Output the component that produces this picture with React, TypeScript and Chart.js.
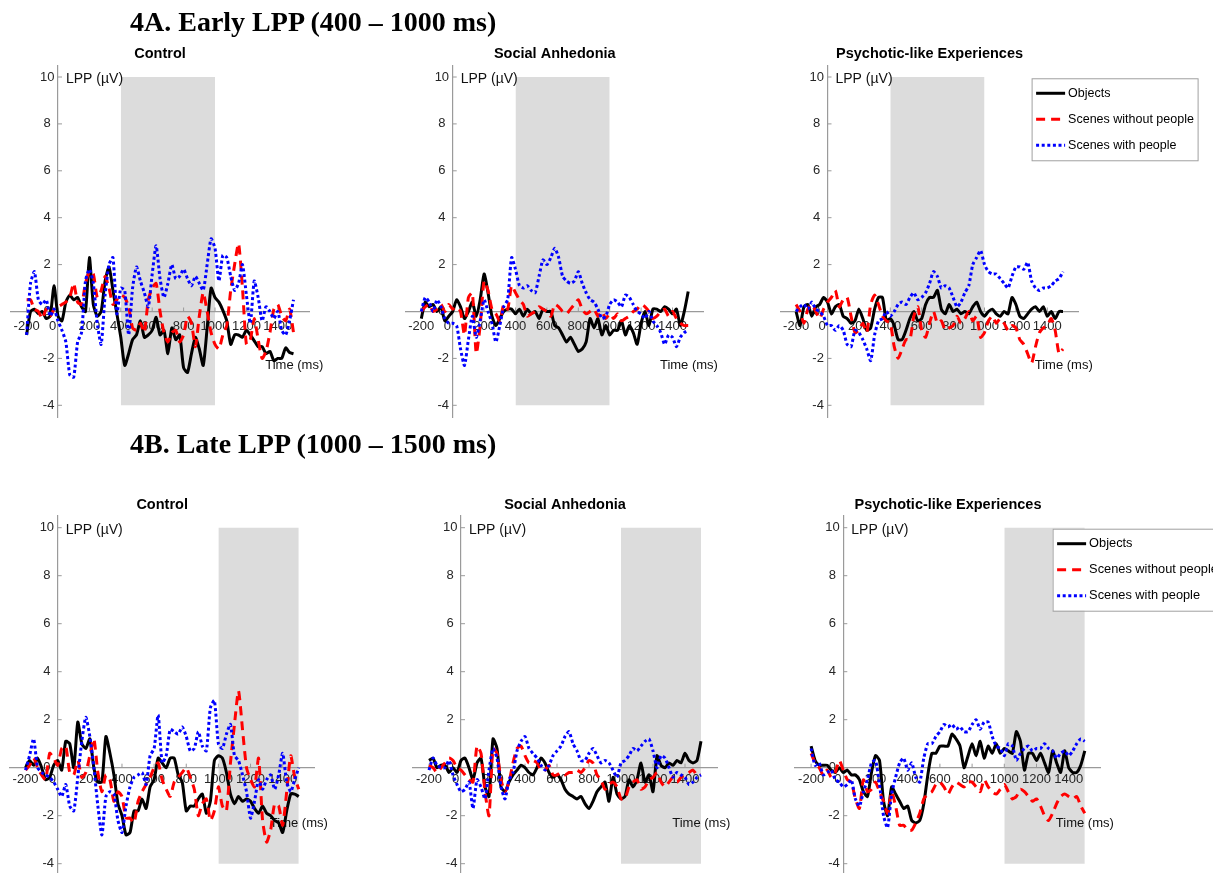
import React, { useEffect, useRef } from "react";
import { Chart, registerables } from "chart.js";

Chart.register(...registerables);

// ---------------- data ----------------
const TIME_MS = [
  -200, -175, -150, -125, -100, -75, -50, -25, 0, 25,
  50, 75, 100, 125, 150, 175, 200, 225, 250, 275,
  300, 325, 350, 375, 400, 425, 450, 475, 500, 525,
  550, 575, 600, 625, 650, 675, 700, 725, 750, 775,
  800, 825, 850, 875, 900, 925, 950, 975, 1000, 1025,
  1050, 1075, 1100, 1125, 1150, 1175, 1200, 1225, 1250, 1275,
  1300, 1325, 1350, 1375, 1400, 1425, 1450, 1475, 1500,
];
const X_TICKS = [-200, 0, 200, 400, 600, 800, 1000, 1200, 1400];
const Y_TICKS = [-4, -2, 0, 2, 4, 6, 8, 10];
const X_RANGE = [-300, 1600];
const Y_RANGE = [-4.5, 10.5];
const BAND_Y = [-4, 10];
const EARLY_WINDOW = [400, 1000];
const LATE_WINDOW = [1000, 1500];
const SERIES_LABELS = ["Objects", "Scenes without people", "Scenes with people"];
const GROUPS = ["Control", "Social Anhedonia", "Psychotic-like Experiences"];
const SECTION_TITLES = ["4A. Early LPP (400 \u2013 1000 ms)", "4B. Late LPP (1000 \u2013 1500 ms)"];
const Y_LABEL = "LPP (\u00b5V)";
const X_LABEL = "Time (ms)";

// 4A Early LPP
const EARLY_CONTROL_OBJECTS = [
  -1.0, 0.0, 0.1, -0.1, 0.0, -0.3, -0.2, 1.1, -0.2, -0.4,
  0.4, 0.7, 0.5, 0.6, 0.2, 0.0, 2.3, 0.3, -0.2, 0.0,
  1.3, 1.9, 0.9, -0.1, -1.1, -2.3, -1.8, -1.2, -1.0, -0.4,
  -1.1, -1.0, -0.8, -0.25, -1.0, -0.8, -1.8, -0.7, -1.2, -1.0,
  -2.4, -2.6, -1.8, -1.1, -1.6, -2.3, -0.7, 1.0, 0.6, 0.4,
  0.05, -0.4, -1.4, -1.0, -1.0, -1.1, -0.8, -1.0, -1.25, -1.5,
  -1.5, -1.8, -1.7, -2.1, -2.0, -2.0, -1.55, -1.75, -1.8,
];
const EARLY_CONTROL_SCENES = [
  0.5, 0.5, 0.1, 0.0, -0.3, 0.1, -0.2, 0.1, 0.2, 0.3,
  0.4, 0.6, 1.2, 0.4, 0.3, 1.2, 1.7, 1.6, 0.6, 0.9,
  1.5, 1.0, 0.3, 0.5, 0.7, 0.6, 0.2, -0.7, -0.8, -0.5,
  -0.9, 0.5, 1.0, 1.2, 0.0, -0.9, -1.3, -0.9, -0.8, -1.3,
  -1.0, -0.2, -0.5, -1.5, -0.2, 0.8, 0.0, -0.9, -1.4, -1.6,
  -1.0, -0.6, 0.9, 2.0, 2.9, 1.0, -1.4, -1.2, -0.3, -1.2,
  -2.0, -1.7, -0.9, 0.1, 0.3, -0.2, -0.4, 0.1, -0.9,
];
const EARLY_CONTROL_PEOPLE = [
  -1.0, 1.2, 1.7, 0.5, 0.3, 0.5, -0.2, 0.1, -0.4, -0.8,
  -1.3, -2.7, -2.8, -1.3, -0.9, 1.3, 1.8, 1.2, -0.5, -1.4,
  0.7, 2.0, 2.3, -0.1, 1.0, 0.9, -1.0, 1.0, 1.9, 1.3,
  0.8, 0.2, 1.6, 2.8, 1.4, 0.6, 1.2, 2.0, 1.4, 1.5,
  1.8, 1.4, 1.1, 1.5, 1.2, 0.9, 2.0, 3.1, 2.7, 1.3,
  2.4, 2.3, 1.5, 0.9, 1.2, 2.0, 0.7, -0.5, 1.3, 0.6,
  -0.4, 0.2, 0.0, -0.3, 0.0, -0.8, -1.0, -0.4, 0.5,
];
const EARLY_ANHEDONIA_OBJECTS = [
  -0.3, 0.4, 0.2, 0.3, 0.0, 0.2, -0.4, -0.2, 0.0, 0.5,
  0.2, -0.3, 0.0, 0.4, -0.2, 0.5, 1.6, 0.8, -0.2, -0.6,
  -0.3, 0.0, 0.1, 0.1, -0.1, 0.1, -0.2, 0.1, -0.1, 0.0,
  -0.3, 0.1, 0.0, 0.0, -0.6, -0.7, -1.0, -1.3, -1.1, -1.4,
  -1.7, -1.6, -1.3, -0.3, -0.7, -0.3, -1.0, -0.6, -1.0, -0.8,
  -0.8, -0.4, -1.0, -0.6, -0.9, -1.4, -0.5, 0.0, -0.6, 0.1,
  0.1, 0.0, 0.2, 0.1, -0.1, 0.1, -0.6, 0.0, 0.85,
];
const EARLY_ANHEDONIA_SCENES = [
  0.0, 0.2, 0.3, 0.0, 0.1, 0.3, 0.0, 0.3, 0.1, 0.2,
  0.0, -1.0, 0.6, 0.8, -1.8, -0.6, 1.3, 0.9, 0.1, -0.1,
  -0.4, 0.3, 0.1, 1.1, 0.8, 0.5, 0.3, -0.2, -0.1, 0.0,
  0.2, 0.1, 0.0, -0.2, 0.3, 0.2, 0.0, -0.1, 0.1, 0.3,
  0.5, 0.1, -0.1, 0.0, 0.1, -0.2, 0.0, -0.3, -0.1, -0.3,
  -0.1, -0.4, -0.3, -0.2, 0.0, 0.1, 0.3, 0.2, 0.0, -0.3,
  -0.2, 0.0, 0.1, -0.2, 0.0, -0.3, -0.5, -0.6, -0.6,
];
const EARLY_ANHEDONIA_PEOPLE = [
  0.0, 0.6, 0.4, 0.0, 0.5, 0.2, -0.3, -0.5, -0.5, -0.6,
  -1.6, -2.3, -1.2, -0.2, -1.1, -0.4, 0.5, 0.0, -0.5, -1.3,
  -0.6, 0.2, 0.5, 2.3, 1.8, 1.1, 1.0, 1.1, 0.9, 0.8,
  1.5, 2.2, 2.0, 2.3, 2.7, 2.3, 1.5, 1.3, 1.2, 1.3,
  1.7, 1.2, 0.8, 0.5, 0.4, 0.1, -0.3, -0.2, 0.3, 0.5,
  0.4, 0.2, 0.7, 0.6, 0.3, 0.0, -0.1, -0.3, 0.0, -0.4,
  -0.6, -0.9, -1.4, -1.0, -1.1, -1.5, -1.1, -0.9, -0.8,
];
const EARLY_PSYCHOTIC_OBJECTS = [
  0.0, -0.6, 0.2, 0.3, -0.2, 0.2, 0.3, 0.6, 0.4, -0.1,
  0.2, 0.3, -0.2, -0.3, -0.5, -0.4, 0.1, -0.3, -0.8, -0.7,
  0.1, 0.6, 0.6, -0.4, -0.3, -0.6, -1.2, -1.2, -0.8, -0.3,
  0.0, -0.4, -0.3, 0.3, 0.6, 0.6, 0.9, 0.1, -0.1, 0.3,
  0.0, 0.1, -0.1, 0.0, -0.1, 0.2, 0.4, 0.0, -0.2, 0.0,
  0.1, -0.1, -0.2, 0.0, -0.1, 0.6, 0.3, -0.2, -0.3, -0.1,
  0.1, 0.2, 0.0, 0.2, -0.2, 0.0, -0.3, 0.0, 0.0,
];
const EARLY_PSYCHOTIC_SCENES = [
  0.3, 0.0, -0.5, 0.1, 0.3, 0.0, -0.3, 0.1, 0.4, 0.6,
  0.9, 0.2, 0.5, 0.6, -0.2, -0.9, -0.8, -0.5, -0.9, 0.3,
  0.7, 0.3, -0.2, -0.4, -0.5, -1.5, -2.0, -1.6, -1.2, -1.2,
  -0.2, 0.2, -0.8, -1.1, -0.5, 0.0, -0.5, -0.4, -0.8, -0.7,
  -0.6, -0.2, -0.5, -0.3, 0.0, -0.4, -0.2, -1.1, -0.9, -0.4,
  -0.2, -0.5, -0.3, -0.5, -0.8, -0.6, -0.7, -1.2, -1.4, -1.8,
  -2.2, -1.5, -0.9, -0.7, -0.6, -0.3, -0.8, -1.8, -1.6,
];
const EARLY_PSYCHOTIC_PEOPLE = [
  0.0, 0.2, 0.3, 0.1, 0.4, 0.1, 0.0, -0.2, -0.6, -0.6,
  -0.8, -0.6, -0.8, -1.4, -1.5, -0.8, -0.9, -1.2, -1.6, -2.1,
  -1.0, -0.4, -0.3, 0.0, -0.2, 0.0, 0.3, 0.4, 0.3, 0.6,
  0.8, 0.5, 0.6, 0.8, 1.2, 1.7, 1.5, 1.0, 1.1, 1.0,
  0.6, 0.2, 0.4, 0.8, 1.1, 2.0, 2.3, 2.6, 2.0, 1.7,
  1.6, 1.6, 1.4, 1.2, 1.0, 1.5, 1.9, 1.9, 1.8, 2.1,
  1.3, 1.0, 0.9, 1.0, 1.0, 1.1, 1.3, 1.4, 1.7,
];

// 4B Late LPP
const LATE_CONTROL_OBJECTS = [
  0.0, 0.3, 0.1, 0.4, 0.0, -0.5, -0.4, 0.1, 0.3, -0.1,
  1.1, 1.0, 0.0, 1.9, 1.0, 0.8, 1.2, 0.0, -0.6, -0.6,
  1.3, 0.6, -0.3, -1.5, -2.0, -2.8, -2.7, -1.8, -1.8, -1.3,
  -1.7, -0.8, -0.5, 0.4, 0.2, 0.0, 0.4, 0.4, -0.3, -0.6,
  -1.8, -1.6, -1.6, -1.3, -1.1, -1.9, -1.4, 0.3, 0.5, 0.4,
  -0.2, -1.1, -1.5, -1.2, -1.4, -1.3, -1.4, -1.7, -1.9, -1.6,
  -1.9, -2.0, -2.2, -2.3, -2.7, -1.8, -1.1, -1.1, -1.2,
];
const LATE_CONTROL_SCENES = [
  -0.1, 0.1, 0.4, 0.0, -0.3, -0.5, 0.6, 0.4, 0.1, 0.8,
  0.9, -0.2, -0.3, 0.3, -0.4, -0.2, 0.5, 1.2, -0.2, -1.0,
  -0.3, -0.5, -1.4, -1.0, -1.2, -2.1, -2.1, -2.3, -1.4, -1.0,
  -0.7, -0.4, 0.0, 0.2, -0.5, -0.9, -1.2, -0.6, -0.4, -0.2,
  0.0, -0.4, -0.9, -2.0, -1.5, -1.3, -2.2, -1.8, -0.8, -1.6,
  -1.8, 0.2, 1.8, 3.2, 1.6, 0.0, -0.5, -0.8, 0.4, -2.2,
  -3.1, -2.6, -1.5, -1.6, -2.4, -1.0, 0.5, -0.4, -0.9,
];
const LATE_CONTROL_PEOPLE = [
  -0.1, 0.5, 1.2, 0.0, -0.2, -0.3, -0.4, -0.6, -0.9, -1.2,
  -0.7, -1.6, -1.8, -0.4, 1.1, 2.1, 1.3, 0.0, -1.6, -2.8,
  -1.2, -1.0, -1.1, -2.2, -2.7, -1.6, -0.8, -0.4, -0.3, -0.2,
  -0.7, 0.5, 0.8, 2.2, 0.2, 0.5, 1.6, 1.5, 1.4, 1.7,
  1.3, 0.7, 0.8, 1.5, 0.9, 0.7, 2.5, 2.8, 1.0, 0.8,
  1.4, 1.8, 0.5, 0.3, -0.3, -1.0, -2.1, -1.4, -0.5, -0.9,
  -0.5, -0.3, -0.9, -0.3, 0.6, -0.6, -1.0, -0.5, 0.0,
];
const LATE_ANHEDONIA_OBJECTS = [
  0.3, 0.4, 0.0, 0.1, 0.1, -0.2, 0.0, -0.2, 0.3, 0.4,
  0.0, -0.5, 0.2, 0.4, -0.8, -1.2, 1.2, 0.8, -0.8, -1.0,
  -0.6, -0.3, -0.1, 0.1, 0.0, -0.2, -0.3, 0.0, 0.4, 0.2,
  -0.2, -0.4, -0.3, -0.5, -0.9, -1.1, -1.2, -1.3, -1.2, -1.5,
  -1.7, -1.4, -1.0, -0.8, -0.6, -1.4, -0.4, -1.1, -1.3, -1.2,
  -0.5, -0.8, -0.5, 0.2, -0.6, -0.3, -1.0, 0.5, 0.1, 0.0,
  0.2, 0.1, 0.3, 0.2, 0.6, 0.3, 0.2, 0.3, 1.1,
];
const LATE_ANHEDONIA_SCENES = [
  0.1, 0.0, -0.2, 0.0, 0.2, 0.4, 0.3, 0.0, -0.1, -0.3,
  -0.5, -0.6, 0.9, 0.6, -1.0, -2.0, 0.8, 0.6, -0.5, -1.0,
  -0.6, 0.2, 0.8, 0.9, 0.5, 0.2, 0.3, 0.2, -0.1, -0.1,
  0.1, -0.3, -0.3, -0.2, -0.3, -0.2, -0.2, -0.1, -0.2, 0.0,
  0.3, 0.2, -0.3, -0.5, -0.9, -0.7, -0.6, -0.8, -1.3, -1.3,
  -0.8, -0.6, -0.5, -0.9, -0.8, -0.5, -0.4, -0.2, -0.6, -0.8,
  -0.6, -0.4, -0.6, -0.4, -0.3, -0.2, -0.1, -0.3, -0.3,
];
const LATE_ANHEDONIA_PEOPLE = [
  -0.1, 0.4, 0.1, 0.0, 0.0, 0.3, -0.3, -0.7, -1.0, -0.9,
  -0.6, -1.7, -0.5, -0.8, -1.3, -0.1, 0.8, 0.4, -0.8, -1.3,
  -0.5, -0.2, 0.7, 1.1, 1.3, 0.8, 0.6, 0.4, 0.1, -0.1,
  0.1, 0.5, 0.7, 0.9, 1.3, 1.5, 1.0, 0.7, 0.3, 0.3,
  0.6, 0.8, 0.5, 0.2, 0.3, 0.2, -0.1, -0.4, 0.2, 0.3,
  0.5, 0.8, 0.7, 0.9, 1.1, 1.2, 0.7, 0.0, 0.5, 0.4,
  0.0, -0.4, -0.2, -0.3, -0.4, -0.7, -0.6, -0.4, -0.3,
];
const LATE_PSYCHOTIC_OBJECTS = [
  0.9, 0.3, 0.1, 0.1, 0.1, -0.1, -0.2, 0.0, -0.2, -0.1,
  -0.3, -0.3, -0.5, -1.0, -1.2, -0.2, 0.5, 0.3, -1.4, -2.0,
  -0.8, -1.1, -1.4, -1.7, -1.6, -2.2, -2.3, -2.2, -1.5, -0.3,
  0.6, 0.6, 0.9, 0.9, 0.9, 1.4, 1.2, 0.9, 0.0, 0.5,
  1.0, 0.5, 1.1, 0.4, 0.9, 0.6, 1.0, 0.6, 0.8, 0.7,
  0.6, 1.5, 1.1, -0.1, 0.6, 0.6, 0.3, 0.6, 0.2, -0.2,
  0.7, 0.2, -0.2, 0.7, 0.0, -0.2, -0.2, 0.1, 0.7,
];
const LATE_PSYCHOTIC_SCENES = [
  0.6, 0.2, 0.0, -0.3, -0.1, -0.4, -0.2, 0.3, -0.1, -0.5,
  -0.6, -1.3, -1.7, -0.5, -1.0, -0.9, -0.6, -1.0, -1.4, -1.9,
  -1.0, -1.6, -2.4, -2.4, -2.6, -2.6, -2.3, -1.9, -1.3, -1.1,
  -1.0, -0.7, -0.6, -0.8, -1.1, -0.8, -0.6, -0.7, -0.8, -0.6,
  -0.6, -0.8, -1.0, -0.5, -0.8, -1.0, -1.1, -0.9, -0.7, -1.0,
  -1.3, -1.2, -0.9, -1.0, -1.2, -1.4, -1.3, -1.6, -2.0, -2.2,
  -1.9, -1.5, -1.2, -1.1, -1.2, -1.3, -1.2, -1.6, -1.9,
];
const LATE_PSYCHOTIC_PEOPLE = [
  0.8, 0.1, 0.2, -0.3, -0.2, -0.1, -0.5, -0.6, -0.8, -0.7,
  -0.5, -1.3, -1.6, -1.0, -0.5, 0.2, 0.3, -0.7, -2.0, -2.5,
  -1.1, -0.4, 0.2, 0.4, -0.1, 0.2, -0.4, -0.6, 0.4, 1.0,
  1.0, 1.3, 1.5, 1.8, 1.7, 1.8, 1.6, 1.7, 1.5, 1.5,
  1.8, 2.0, 1.6, 1.9, 1.9, 1.3, 0.9, 0.8, 0.5, 1.0,
  0.9, 0.3, 0.6, 0.8, 0.9, 0.7, 0.8, 0.8, 1.0, 0.8,
  0.7, 0.4, 0.6, 0.7, 0.5, 0.7, 1.0, 1.2, 1.1,
];

// ---------------- styles / layout ----------------
const SANS = "'Liberation Sans', Arial, Helvetica, sans-serif";
const SERIF = "'Liberation Serif', 'Times New Roman', serif";
const AXIS_COLOR = "#9a9a9a";
const TICK_COLOR = "#262626";
const BAND_COLOR = "#dcdcdc";
const LINE_STYLES = [
  { color: "#000000", dash: [] as number[], width: 3 },
  { color: "#ff0000", dash: [9, 6], width: 3 },
  { color: "#0000ff", dash: [3, 2.6], width: 3 },
];

type Layout = {
  axisX: number; zeroY: number; pxPerMs: number; pxPerUnit: number;
  tickPad: number; extraRight: number; legend: boolean; legendFont: number;
};

type PanelSpec = {
  title: string; window: number[]; series: number[][]; layout: Layout;
};

const TOP = { zeroY: 311.5, pxPerMs: 0.157, pxPerUnit: 23.45, tickPad: 7, legendFont: 12.5 };
const BOT = { zeroY: 767.7, pxPerUnit: 24.0, tickPad: 4, legendFont: 12.8 };

const PANELS: PanelSpec[] = [
  { title: GROUPS[0], window: EARLY_WINDOW, series: [EARLY_CONTROL_OBJECTS, EARLY_CONTROL_SCENES, EARLY_CONTROL_PEOPLE],
    layout: { ...TOP, axisX: 58.0, extraRight: 20, legend: false } },
  { title: GROUPS[1], window: EARLY_WINDOW, series: [EARLY_ANHEDONIA_OBJECTS, EARLY_ANHEDONIA_SCENES, EARLY_ANHEDONIA_PEOPLE],
    layout: { ...TOP, axisX: 452.7, extraRight: 20, legend: false } },
  { title: GROUPS[2], window: EARLY_WINDOW, series: [EARLY_PSYCHOTIC_OBJECTS, EARLY_PSYCHOTIC_SCENES, EARLY_PSYCHOTIC_PEOPLE],
    layout: { ...TOP, axisX: 827.5, extraRight: 135, legend: true } },
  { title: GROUPS[0], window: LATE_WINDOW, series: [LATE_CONTROL_OBJECTS, LATE_CONTROL_SCENES, LATE_CONTROL_PEOPLE],
    layout: { ...BOT, axisX: 57.7, pxPerMs: 0.1607, extraRight: 20, legend: false } },
  { title: GROUPS[1], window: LATE_WINDOW, series: [LATE_ANHEDONIA_OBJECTS, LATE_ANHEDONIA_SCENES, LATE_ANHEDONIA_PEOPLE],
    layout: { ...BOT, axisX: 461.0, pxPerMs: 0.160, extraRight: 20, legend: false } },
  { title: GROUPS[2], window: LATE_WINDOW, series: [LATE_PSYCHOTIC_OBJECTS, LATE_PSYCHOTIC_SCENES, LATE_PSYCHOTIC_PEOPLE],
    layout: { ...BOT, axisX: 843.3, pxPerMs: 0.161, extraRight: 180, legend: true } },
];

// y tick labels sit a little left of the axis (trailing spaces give the gap)
const yTickLabel = (v: any) => {
  const s = String(v);
  return s.length >= 2 ? s + " " : s + "  ";
};
// the 0 label on the time axis is offset left of the vertical axis
const xTickLabel = (v: any) => (v === 0 ? "0   " : String(v));

// ---------------- decoration plugin ----------------
const decorPlugin = {
  id: "decor",
  beforeDatasetsDraw(chart: any, _a: any, opts: any) {
    const { ctx, scales } = chart;
    const xs = scales.x, ys = scales.y;
    const x0 = xs.getPixelForValue(0);
    const y0 = ys.getPixelForValue(0);
    ctx.save();
    ctx.strokeStyle = AXIS_COLOR;
    ctx.lineWidth = 1;
    ctx.beginPath();
    for (const v of Y_TICKS) {
      const y = ys.getPixelForValue(v);
      ctx.moveTo(x0, y); ctx.lineTo(x0 + 4, y);
    }
    for (const v of X_TICKS) {
      const x = xs.getPixelForValue(v);
      ctx.moveTo(x, y0); ctx.lineTo(x, y0 - 4);
    }
    ctx.stroke();
    ctx.fillStyle = "#111111";
    ctx.textBaseline = "middle";
    ctx.textAlign = "left";
    ctx.font = `14px ${SANS}`;
    ctx.fillText(Y_LABEL, x0 + 8, ys.getPixelForValue(Y_TICKS[Y_TICKS.length - 1]) + 2);
    ctx.font = `13px ${SANS}`;
    ctx.fillText(X_LABEL, xs.getPixelForValue(opts.xLabelAt), ys.getPixelForValue(opts.xLabelLevel));
    ctx.restore();
  },
  afterDraw(chart: any, _a: any, opts: any) {
    const { ctx, chartArea, scales } = chart;
    ctx.save();
    ctx.fillStyle = "#000000";
    ctx.font = `bold 14.5px ${SANS}`;
    ctx.textAlign = "center";
    ctx.textBaseline = "middle";
    ctx.fillText(opts.title, (chartArea.left + chartArea.right) / 2, chartArea.top - 11);
    if (opts.legend) {
      const bx = scales.x.getPixelForValue(opts.legendAt);
      const by = chartArea.top + 13;
      const bw = 166, bh = 82;
      ctx.fillStyle = "#ffffff";
      ctx.fillRect(bx, by, bw, bh);
      ctx.strokeStyle = "#a0a0a0";
      ctx.lineWidth = 1;
      ctx.strokeRect(bx + 0.5, by + 0.5, bw, bh);
      const ds = chart.data.datasets.slice(1);
      ds.forEach((d: any, i: number) => {
        const y = by + 15 + i * 26;
        ctx.save();
        ctx.strokeStyle = d.borderColor;
        ctx.lineWidth = d.borderWidth;
        ctx.setLineDash(d.borderDash || []);
        ctx.beginPath();
        ctx.moveTo(bx + 4.5, y);
        ctx.lineTo(bx + 33.5, y);
        ctx.stroke();
        ctx.restore();
        ctx.fillStyle = "#000000";
        ctx.font = `${opts.legendFont}px ${SANS}`;
        ctx.textAlign = "left";
        ctx.textBaseline = "middle";
        ctx.fillText(d.label, bx + 36.5, y);
      });
    }
    ctx.restore();
  },
};

function Panel({ spec }: { spec: PanelSpec }) {
  const ref = useRef<HTMLCanvasElement | null>(null);
  const L = spec.layout;
  const left = L.axisX + X_RANGE[0] * L.pxPerMs;
  const right = L.axisX + X_RANGE[1] * L.pxPerMs;
  const top = L.zeroY - Y_RANGE[1] * L.pxPerUnit;
  const bottom = L.zeroY - Y_RANGE[0] * L.pxPerUnit;
  const cl = Math.floor(left) - 12;
  const ct = Math.floor(top) - 32;
  const cw = Math.ceil(right) + L.extraRight - cl;
  const ch = Math.ceil(bottom) + 14 - ct;
  const pad = { left: left - cl, top: top - ct, right: cl + cw - right, bottom: ct + ch - bottom };

  useEffect(() => {
    const canvas = ref.current;
    if (!canvas) return;
    const toPoints = (vals: number[]) => TIME_MS.map((t, i) => ({ x: t, y: vals[i] }));
    const lineSets = spec.series.map((vals, i) => ({
      label: SERIES_LABELS[i],
      data: toPoints(vals),
      borderColor: LINE_STYLES[i].color,
      borderDash: LINE_STYLES[i].dash,
      borderWidth: LINE_STYLES[i].width,
      borderCapStyle: "butt",
      borderJoinStyle: "round",
      pointRadius: 0,
      tension: 0.2,
      fill: false,
      order: 3 - i,
    }));
    const chart = new Chart(canvas, {
      type: "line",
      data: {
        datasets: [
          {
            label: "window",
            data: [
              { x: spec.window[0], y: BAND_Y[1] },
              { x: spec.window[1], y: BAND_Y[1] },
            ],
            fill: { value: BAND_Y[0] },
            backgroundColor: BAND_COLOR,
            borderColor: "rgba(0,0,0,0)",
            borderWidth: 0,
            pointRadius: 0,
            order: 10,
          },
          ...lineSets,
        ] as any,
      },
      options: {
        animation: false,
        responsive: false,
        events: [],
        layout: { padding: pad },
        plugins: {
          legend: { display: false },
          tooltip: { enabled: false },
          title: { display: false },
          filler: { drawTime: "beforeDraw" },
          decor: {
            title: spec.title,
            legend: L.legend,
            legendFont: L.legendFont,
            legendAt: 1300,
            xLabelAt: 1320,
            xLabelLevel: -2.32,
          },
        } as any,
        scales: {
          x: {
            type: "linear",
            min: X_RANGE[0],
            max: X_RANGE[1],
            position: { y: 0 } as any,
            afterFit: (s: any) => { s.height = 0; },
            afterBuildTicks: (s: any) => { s.ticks = X_TICKS.map((v) => ({ value: v })); },
            grid: { display: false, drawTicks: false },
            border: { display: true, color: AXIS_COLOR, width: 1.2 },
            ticks: {
              autoSkip: false, maxRotation: 0, minRotation: 0,
              padding: L.tickPad,
              color: TICK_COLOR,
              font: { family: SANS, size: 13 },
              callback: xTickLabel,
            },
          },
          y: {
            type: "linear",
            min: Y_RANGE[0],
            max: Y_RANGE[1],
            position: { x: 0 } as any,
            afterFit: (s: any) => { s.width = 0; },
            afterBuildTicks: (s: any) => { s.ticks = Y_TICKS.map((v) => ({ value: v })); },
            grid: { display: false, drawTicks: false },
            border: { display: true, color: AXIS_COLOR, width: 1.2 },
            ticks: {
              autoSkip: false,
              padding: 6,
              color: TICK_COLOR,
              font: { family: SANS, size: 13 },
              callback: yTickLabel,
            },
          },
        } as any,
      },
      plugins: [decorPlugin as any],
    });
    return () => chart.destroy();
  }, []);

  return (
    <canvas
      ref={ref}
      width={cw}
      height={ch}
      style={{ position: "absolute", left: cl, top: ct, width: cw, height: ch }}
    />
  );
}

export default function App() {
  const titleStyle: React.CSSProperties = {
    position: "absolute",
    left: 130,
    fontFamily: SERIF,
    fontWeight: "bold",
    fontSize: 28,
    lineHeight: "28px",
    whiteSpace: "nowrap",
    color: "#000",
    margin: 0,
  };
  return (
    <div
      style={{
        position: "fixed",
        left: 0,
        top: 0,
        width: 1213,
        height: 873,
        overflow: "hidden",
        background: "#ffffff",
      }}
    >
      {PANELS.map((p, i) => (
        <Panel key={i} spec={p} />
      ))}
      <div style={{ ...titleStyle, top: 8.3 }}>{SECTION_TITLES[0]}</div>
      <div style={{ ...titleStyle, top: 429.9 }}>{SECTION_TITLES[1]}</div>
    </div>
  );
}
